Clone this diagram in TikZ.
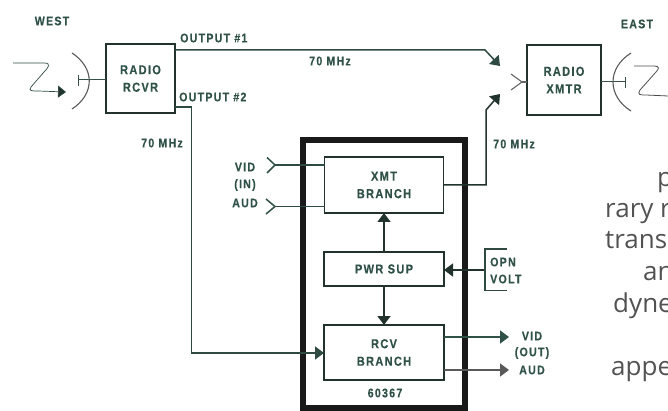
\documentclass[tikz,border=0pt]{standalone}
\usepackage{fontspec}
\setmainfont{Liberation Sans}
\newfontfamily\lblfont[LetterSpace=10,FakeStretch=0.85,FakeBold=0.3]{Liberation Sans Bold}
\newfontfamily\bodyfont{Open Sans}
\usetikzlibrary{arrows.meta,calc}
\definecolor{ink}{HTML}{22332E}
\definecolor{lbl}{HTML}{2F5148}
\definecolor{lineg}{HTML}{2E4A42}
\tikzset{
  lab/.style={font=\lblfont\fontsize{12.5}{17}\selectfont,text=lbl,inner sep=0pt,align=center},
  blk/.style={draw=ink,line width=1.4pt,inner sep=0pt,outer sep=0pt,font=\lblfont\fontsize{13}{17.5}\selectfont,text=lbl,align=center},
  wire/.style={draw=lineg,line width=1.5pt},
  thin wire/.style={draw=lineg!90!gray,line width=1pt},
  tipped/.style={-{Triangle[length=9pt,width=13pt]}},
  body/.style={font=\bodyfont\fontsize{26}{26}\selectfont,text=black!68,anchor=base west,inner sep=0pt},
}
\begin{document}
\begin{tikzpicture}[x=1pt,y=-1pt]
\useasboundingbox (0,0) rectangle (668,411);
\clip (0,0) rectangle (668,411);
% blocks
\node[blk,minimum width=69pt,minimum height=69pt] (rcvr) at (140.5,78.5) {RADIO\\RCVR};
\node[blk,minimum width=74pt,minimum height=70pt] (xmtr) at (564,80) {RADIO\\XMTR};
\node[draw=black!90,line width=6pt,minimum width=162pt,minimum height=268pt,inner sep=0pt,outer sep=0pt] (frame) at (384,274) {};
\node[blk,minimum width=119pt,minimum height=56pt] (xmt) at (384,185) {XMT\\BRANCH};
\node[blk,minimum width=120pt,minimum height=34pt] (pwr) at (384,269) {PWR SUP};
\node[blk,minimum width=120pt,minimum height=55pt] (rcv) at (384,352.5) {RCV\\BRANCH};
\node[lab] (serial) at (385,393) {60367};
% labels
\node[lab] (west) at (52,21) {WEST};
\node[lab] (east) at (637,24) {EAST};
\node[lab,anchor=west] (o1) at (180,38) {OUTPUT \#1};
\node[lab,anchor=west] (o2) at (179,97) {OUTPUT \#2};
\node[lab] (m1) at (330,61) {70 MHz};
\node[lab] (m2) at (162,143) {70 MHz};
\node[lab] (m3) at (514,144) {70 MHz};
\node[lab] (vidin) at (245,167) {VID};
\node[lab] (in) at (245,185) {(IN)};
\node[lab] (audin) at (245,203) {AUD};
\node[lab,anchor=west] (opn) at (490,262) {OPN};
\node[lab,anchor=west] (volt) at (490,279) {VOLT};
\node[lab] (vidout) at (532,336) {VID};
\node[lab] (out) at (532,353) {(OUT)};
\node[lab] (audout) at (532,370) {AUD};
% free ends
\coordinate (tip1) at (500,66);
\coordinate (tip2) at (500,94);
\coordinate (chevV) at (275,165);
\coordinate (chevA) at (275,206.5);
\coordinate (chevX) at (522,82);
\coordinate (volt0) at (485,270);
\coordinate (vout) at (509,337);
\coordinate (aout) at (509,370);
% connectors
\draw[wire,tipped] (rcvr.east |- 0,50) -- (485,50) -- (tip1);
\draw[wire,tipped] (rcvr.east |- 0,107) -- (191.5,107) -- (191.5,353) -- (rcv.west |- 0,353);
\draw[wire,tipped,draw=ink] (xmt.east |- 0,185) -- (486,185) -- (486,110) -- (tip2);
\draw[wire,tipped,draw=ink] (pwr.north) -- (xmt.south);
\draw[wire,tipped,draw=ink] (pwr.south) -- (rcv.north);
\draw[wire,tipped,draw=ink] (volt0) -- (pwr.east |- volt0);
\draw[wire,tipped,draw=lbl] (rcv.east |- vout) -- (vout);
\draw[wire,draw=black!65,-{Triangle[length=9pt,width=13pt,fill=black!65]}] (rcv.east |- aout) -- (aout);
\draw[wire] (chevV) -- (xmt.west |- chevV);
\draw[wire] (chevA) -- (xmt.west |- chevA);
\draw[wire,draw=lbl] (267,157.5) -- (chevV) -- (267,173);
\draw[wire,draw=lbl] (266,199) -- (chevA) -- (266,214);
\draw[wire,line width=1.1pt,draw=black!60] (511,74) -- (chevX) -- (511,90);
\draw[wire,line width=1.1pt,draw=black!60] (chevX) -- (xmtr.west |- chevX);
% OPN VOLT bracket
\draw[wire,line width=1.2pt] (507,249) -- (485,249) -- (485,290.5) -- (507,290.5);
% west antenna
\draw[thin wire] (78,80) -- (rcvr.west |- 0,80);
\draw[thin wire] (78,75) -- (78,86);
\draw[line width=1.1pt,draw=black!65] (72,53) .. controls (95,68) and (95,94) .. (72,109);
\draw[line width=.7pt,draw=lineg,-{Triangle[length=8pt,width=12pt,fill=ink]}] (13,63) -- (44,63) .. controls (52,63) and (48,68) .. (44,72) -- (31,87) .. controls (28,91) and (32,91) .. (38,91) -- (66,92);
% east antenna
\draw[thin wire] (xmtr.east |- 0,82) -- (625,82);
\draw[thin wire] (625,77) -- (625,88);
\draw[line width=1.1pt,draw=black!65] (631,53) .. controls (607,68) and (607,96) .. (631,111);
\draw[line width=.8pt,draw=black!70] (634,66) -- (654,66) .. controls (660,66) and (659,69) .. (656,72) -- (640,90) .. controls (637,95) and (640,95) .. (646,95) -- (668,96);
% running text cut off at the right
\node[body] (t1) at (657,187) {p};
\node[body] (t2) at (605,218) {rary r};
\node[body] (t3) at (605,249) {trans};
\node[body] (t4) at (643,280) {an};
\node[body] (t5) at (613,312) {dyne};
\node[body] (t6) at (611,375) {appe};
\end{tikzpicture}
\end{document}
